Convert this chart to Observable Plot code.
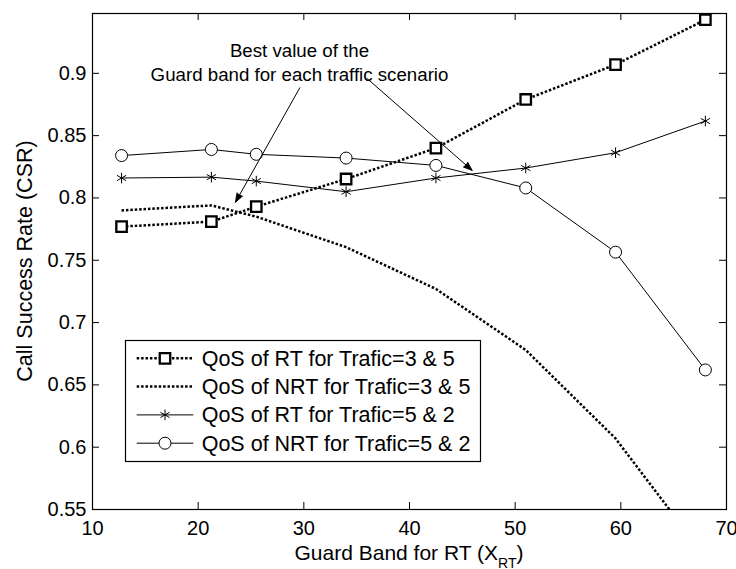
<!DOCTYPE html>
<html>
<head>
<meta charset="utf-8">
<script src="https://cdn.jsdelivr.net/npm/d3@7"></script>
<script src="https://cdn.jsdelivr.net/npm/@observablehq/plot@0.6"></script>
<style>
  html, body { margin: 0; padding: 0; background: #fff; }
  #chart { width: 736px; height: 569px; }
</style>
</head>
<body>
<div id="chart"></div>
<script>
// ---- data ----
const guardBand = [12.75, 21.25, 25.5, 34, 42.5, 51, 59.5, 68];
const rtTraffic35 = [0.777, 0.781, 0.793, 0.8152, 0.840, 0.879, 0.907, 0.943];
const nrtTraffic35 = [0.790, 0.794, 0.785, 0.7605, 0.727, 0.678, 0.607, 0.512];
const rtTraffic52 = [0.816, 0.8167, 0.8135, 0.805, 0.816, 0.824, 0.8363, 0.8617];
const nrtTraffic52 = [0.834, 0.8389, 0.835, 0.832, 0.8261, 0.808, 0.7565, 0.662];
const seriesNames = [
  "QoS of RT for Trafic=3 & 5",
  "QoS of NRT for Trafic=3 & 5",
  "QoS of RT for Trafic=5 & 2",
  "QoS of NRT for Trafic=5 & 2"
];
const xTicks = [10, 20, 30, 40, 50, 60, 70];
const xTickLabels = ["10", "20", "30", "40", "50", "60", "70"];
const yTicks = [0.55, 0.6, 0.65, 0.7, 0.75, 0.8, 0.85, 0.9];
const yTickLabels = ["0.55", "0.6", "0.65", "0.7", "0.75", "0.8", "0.85", "0.9"];
const xLabelMain = "Guard Band for RT (X";
const xLabelSub = "RT";
const xLabelEnd = ")";
const yLabel = "Call Success Rate (CSR)";
const annotationLines = ["Best value of the", "Guard band for each traffic scenario"];
const annotationX = [29.59, 29.59];
const annotationY = [0.9178, 0.8983];
const arrowX1 = [29.62, 36.0];
const arrowY1 = [0.8884, 0.8957];
const arrowX2 = [23.53, 45.93];
const arrowY2 = [0.7966, 0.8221];

// ---- build tables ----
const rows = (ys) => guardBand.map((x, i) => ({x, y: ys[i]}));
const rt35 = rows(rtTraffic35);
const nrt35 = rows(nrtTraffic35);
const rt52 = rows(rtTraffic52);
const nrt52 = rows(nrtTraffic52);
const annotations = annotationLines.map((t, i) => ({text: t, x: annotationX[i], y: annotationY[i]}));
const arrows = arrowX1.map((x1, i) => ({x1, y1: arrowY1[i], x2: arrowX2[i], y2: arrowY2[i]}));

const font = "'Liberation Sans', Arial, Helvetica, sans-serif";
const W = 736, H = 569, mL = 92, mR = 10, mT = 13, mB = 60;
const fw = W - mL - mR, fh = H - mT - mB;
const tickLen = 7;
const dotted = {stroke: "black", strokeWidth: 2.5, strokeDasharray: "2.5,1.9", strokeLinecap: "butt"};

const plot = Plot.plot({
  width: W, height: H,
  marginLeft: mL, marginRight: mR, marginTop: mT, marginBottom: mB,
  style: {fontFamily: font, background: "white", color: "black", overflow: "visible"},
  x: {domain: [10, 70]},
  y: {domain: [0.55, 0.948]},
  marks: [
    Plot.line(nrt35, {x: "x", y: "y", ...dotted, clip: true}),
    Plot.line(rt35, {x: "x", y: "y", ...dotted}),
    Plot.line(rt52, {x: "x", y: "y", stroke: "black", strokeWidth: 1}),
    Plot.line(nrt52, {x: "x", y: "y", stroke: "black", strokeWidth: 1}),
    Plot.dot(rt35, {x: "x", y: "y", symbol: "square", r: 5.9, fill: "white", stroke: "black", strokeWidth: 2.3}),
    Plot.dot(rt52, {x: "x", y: "y", symbol: "asterisk", r: 5, fill: "none", stroke: "black", strokeWidth: 1}),
    Plot.dot(nrt52, {x: "x", y: "y", symbol: "circle", r: 6, fill: "white", stroke: "black", strokeWidth: 1}),
    Plot.arrow(arrows, {x1: "x1", y1: "y1", x2: "x2", y2: "y2", stroke: "black", fill: "black", strokeWidth: 1, headLength: 14, headAngle: 40}),
    Plot.text(annotations, {x: "x", y: "y", text: "text", fontSize: 18.7, fill: "black"}),
    Plot.frame({stroke: "black", strokeWidth: 1.2}),
    // inward tick marks on all four sides
    Plot.tickX(xTicks, {x: d => d, insetTop: fh - tickLen, stroke: "black"}),
    Plot.tickX(xTicks, {x: d => d, insetBottom: fh - tickLen, stroke: "black"}),
    Plot.tickY(yTicks, {y: d => d, insetRight: fw - tickLen, stroke: "black"}),
    Plot.tickY(yTicks, {y: d => d, insetLeft: fw - tickLen, stroke: "black"}),
    Plot.axisX({ticks: xTicks, anchor: "bottom", tickSize: 0, tickPadding: 11, fontSize: 20, label: null,
      tickFormat: d => xTickLabels[xTicks.indexOf(d)]}),
    Plot.axisY({ticks: yTicks, anchor: "left", tickSize: 0, tickPadding: 6, fontSize: 20, label: null,
      tickFormat: d => yTickLabels[yTicks.indexOf(d)]})
  ]
});

const svg = d3.select(plot);

// x label with subscript
const xl = svg.append("text")
  .attr("x", mL + fw / 2).attr("y", 560)
  .attr("text-anchor", "middle")
  .attr("font-family", font).attr("font-size", 21).attr("fill", "black");
xl.append("tspan").text(xLabelMain);
xl.append("tspan").attr("font-size", 14).attr("dy", 8).text(xLabelSub);
xl.append("tspan").attr("dy", -8).text(xLabelEnd);

// y label
svg.append("text")
  .attr("transform", `translate(32,${mT + fh / 2}) rotate(-90)`)
  .attr("text-anchor", "middle")
  .attr("font-family", font).attr("font-size", 21.5).attr("fill", "black")
  .text(yLabel);

// legend
const lg = svg.append("g").attr("text-anchor", "start");
lg.append("rect").attr("x", 125.5).attr("y", 340.5).attr("width", 355).attr("height", 121)
  .attr("fill", "white").attr("stroke", "black").attr("stroke-width", 1.2);
const rowY = [358.3, 386.6, 414.9, 443.2];
const sym = (type, r) => d3.symbol(type, Math.PI * r * r)();
seriesNames.forEach((name, i) => {
  const cy = rowY[i];
  const line = lg.append("line").attr("x1", 136.7).attr("x2", 193.3).attr("y1", cy).attr("y2", cy).attr("stroke", "black");
  if (i < 2) line.attr("stroke-width", 2.5).attr("stroke-dasharray", "2.5,1.9");
  else line.attr("stroke-width", 1);
  if (i === 0) lg.append("path").attr("d", sym(d3.symbolSquare, 5.9)).attr("transform", `translate(165,${cy})`)
    .attr("fill", "white").attr("stroke", "black").attr("stroke-width", 2.3);
  if (i === 2) lg.append("path").attr("d", sym(d3.symbolAsterisk, 5)).attr("transform", `translate(165,${cy})`)
    .attr("fill", "none").attr("stroke", "black").attr("stroke-width", 1);
  if (i === 3) lg.append("path").attr("d", sym(d3.symbolCircle, 6)).attr("transform", `translate(165,${cy})`)
    .attr("fill", "white").attr("stroke", "black").attr("stroke-width", 1);
  lg.append("text").attr("x", 201.7).attr("y", cy).attr("dy", "0.35em")
    .attr("text-anchor", "start")
    .attr("font-family", font).attr("font-size", 21.5).attr("fill", "black").text(name);
});

document.getElementById("chart").appendChild(plot);
</script>
</body>
</html>
